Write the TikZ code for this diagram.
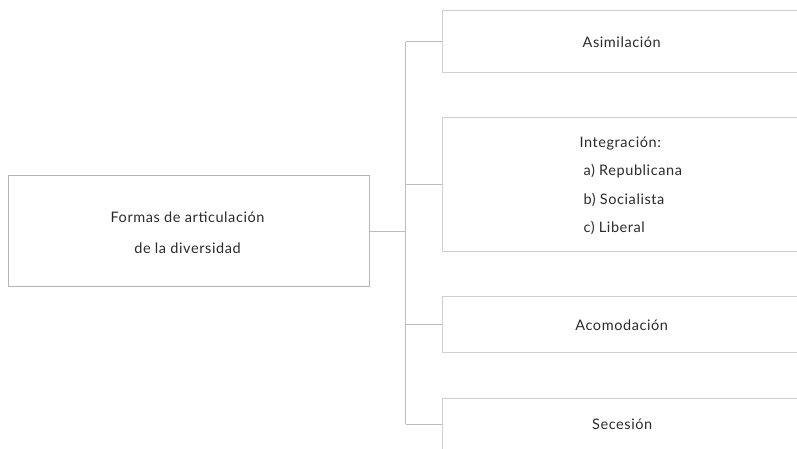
\documentclass[tikz,border=0pt]{standalone}
\usepackage{fontspec}
\setmainfont[LetterSpace=4]{Lato}
\definecolor{boxline}{HTML}{B4B4B4}
\definecolor{lightline}{HTML}{CFCFCF}
\definecolor{conline}{HTML}{BDBDBD}
\definecolor{txt}{HTML}{2A2A2A}
\begin{document}
\begin{tikzpicture}[x=1pt,y=-1pt,
  mainbox/.style={draw=boxline,line width=1pt},
  sidebox/.style={draw=lightline,line width=1pt},
  conn/.style={draw=conline,line width=1pt},
  lbl/.style={font=\fontsize{14.5}{17}\selectfont,text=txt,inner sep=0pt,anchor=base}]
\useasboundingbox (0,0) rectangle (797,449);
\clip (0,0) rectangle (797,449);
% boxes
\coordinate (m1) at (8.3,176);
\coordinate (m2) at (369.5,286);
\draw[mainbox] (m1) rectangle (m2);
\draw[sidebox] (801,10.7) -- (442,10.7) -- (442,72.7) -- (801,72.7);
\draw[sidebox] (801,118) -- (442,118) -- (442,251.3) -- (801,251.3);
\draw[sidebox] (801,296.7) -- (442,296.7) -- (442,352.7) -- (801,352.7);
\draw[sidebox] (801,398) -- (442,398) -- (442,452);
% connector points
\coordinate (mainR) at (369.5,231.3);
\coordinate (junc) at (405.5,231.3);
\coordinate (v1) at (405.5,41.7);
\coordinate (v2) at (405.5,185);
\coordinate (v3) at (405.5,324.3);
\coordinate (v4) at (405.5,424);
\coordinate (b1) at (442,41.7);
\coordinate (b2) at (442,185);
\coordinate (b3) at (442,324.3);
\coordinate (b4) at (442,424);
\draw[conn] (mainR) -- (junc);
\draw[conn] (v1) -- (v4);
\draw[conn] (v1) -- (b1);
\draw[conn] (v2) -- (b2);
\draw[conn] (v3) -- (b3);
\draw[conn] (v4) -- (b4);
% texts
\node[lbl] (t1) at (187.5,222.7) {Formas de articulación};
\node[lbl] (t2) at (187.5,253.3) {de la diversidad};
\node[lbl] (asim) at (621.7,47.7) {Asimilación};
\node[lbl,anchor=base west] (int0) at (579.3,147.3) {Integración:};
\node[lbl,anchor=base west] (int1) at (583.3,175.7) {a) Republicana};
\node[lbl,anchor=base west] (int2) at (583.3,204.3) {b) Socialista};
\node[lbl,anchor=base west] (int3) at (583.3,232.7) {c) Liberal};
\node[lbl] (acom) at (621.7,330.7) {Acomodación};
\node[lbl] (sece) at (622.2,429.3) {Secesión};
\end{tikzpicture}
\end{document}
